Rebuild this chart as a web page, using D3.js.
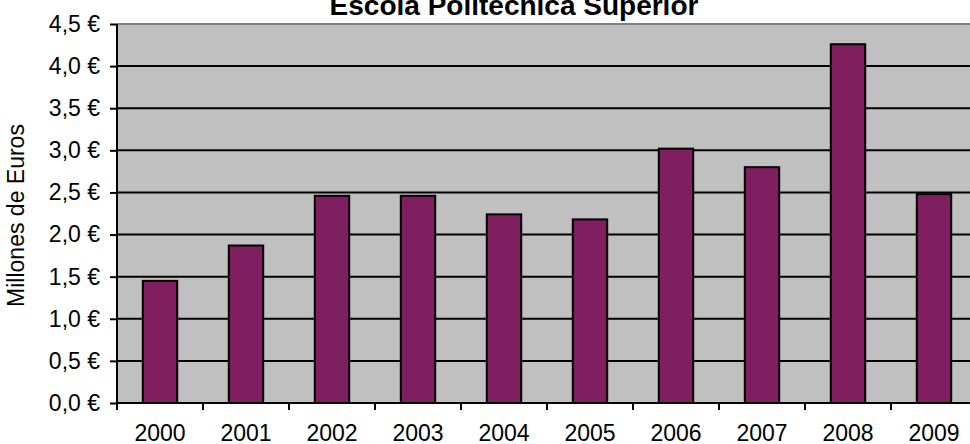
<!DOCTYPE html>
<meta charset="utf-8">
<script src="https://d3js.org/d3.v7.min.js"></script>
<style>
  body { margin: 0; background: #fff; }
  text { font-family: "Liberation Sans", Arial, sans-serif; fill: #000; }
</style>
<div id="chart"></div>
<script>
  // data
  const years = ["2000", "2001", "2002", "2003", "2004", "2005", "2006", "2007", "2008", "2009"];
  const values = [1.45, 1.87, 2.46, 2.46, 2.24, 2.18, 3.02, 2.80, 4.26, 2.48];
  const yTicks = [0, 0.5, 1, 1.5, 2, 2.5, 3, 3.5, 4, 4.5];

  const W = 970, H = 444;
  const margin = { top: 24, left: 117, bottom: 41 };
  const plotRight = 977; // plot runs off the right edge

  const svg = d3.select("#chart").append("svg")
    .attr("width", W).attr("height", H);

  const x = d3.scaleBand()
    .domain(years)
    .range([margin.left, plotRight])
    .paddingInner(0.6)
    .paddingOuter(0.3);

  const y = d3.scaleLinear()
    .domain([0, 4.5])
    .range([H - margin.bottom, margin.top]);

  // plot background
  svg.append("rect")
    .attr("x", margin.left).attr("y", margin.top)
    .attr("width", plotRight - margin.left)
    .attr("height", y(0) - margin.top)
    .attr("fill", "#c0c0c0");

  // grid lines
  svg.append("g")
    .selectAll("line")
    .data(yTicks.slice(1, -1))
    .join("line")
    .attr("x1", margin.left).attr("x2", plotRight)
    .attr("y1", d => y(d)).attr("y2", d => y(d))
    .attr("stroke", "#000").attr("stroke-width", 2);

  // top border
  svg.append("line")
    .attr("x1", margin.left).attr("x2", plotRight)
    .attr("y1", y(4.5)).attr("y2", y(4.5))
    .attr("stroke", "#808080").attr("stroke-width", 2);

  // bars
  svg.append("g")
    .selectAll("rect")
    .data(values)
    .join("rect")
    .attr("x", (d, i) => x(years[i]))
    .attr("y", d => y(d))
    .attr("width", x.bandwidth())
    .attr("height", d => y(0) - y(d))
    .attr("fill", "#7f1f5f")
    .attr("stroke", "#000")
    .attr("stroke-width", 2);

  // y axis
  const yAxis = svg.append("g")
    .attr("transform", `translate(${margin.left},0)`)
    .call(d3.axisLeft(y).tickValues(yTicks).tickSize(7).tickPadding(10)
      .tickFormat(d => d3.format(".1f")(d).replace(".", ",") + " €"));
  yAxis.select(".domain").attr("stroke-width", 2).attr("d", `M0,${y(4.5)}V${y(0)}`);
  yAxis.selectAll(".tick line").attr("stroke-width", 2);
  yAxis.selectAll("text").style("font-size", "23px");

  // x axis with ticks between categories
  const step = x.step();
  const bounds = d3.range(years.length + 1).map(i => margin.left + i * step);
  const xg = svg.append("g");
  xg.append("line")
    .attr("x1", margin.left).attr("x2", plotRight)
    .attr("y1", y(0)).attr("y2", y(0))
    .attr("stroke", "#000").attr("stroke-width", 2);
  xg.selectAll(".xt")
    .data(bounds)
    .join("line")
    .attr("x1", d => d).attr("x2", d => d)
    .attr("y1", y(0)).attr("y2", y(0) + 7)
    .attr("stroke", "#000").attr("stroke-width", 2);
  xg.selectAll("text")
    .data(years)
    .join("text")
    .attr("x", d => x(d) + x.bandwidth() / 2)
    .attr("y", y(0) + 38)
    .attr("text-anchor", "middle")
    .style("font-size", "23px")
    .text(d => d);

  // y label
  svg.append("text")
    .attr("transform", `translate(24,${(y(0) + y(4.5)) / 2 + 2}) rotate(-90)`)
    .attr("text-anchor", "middle")
    .style("font-size", "23px")
    .text("Millones de Euros");

  // title (cut off at the top)
  svg.append("text")
    .attr("x", 514).attr("y", 15)
    .attr("text-anchor", "middle")
    .style("font-size", "28px")
    .style("font-weight", "bold")
    .text("Escola Politècnica Superior");
</script>
